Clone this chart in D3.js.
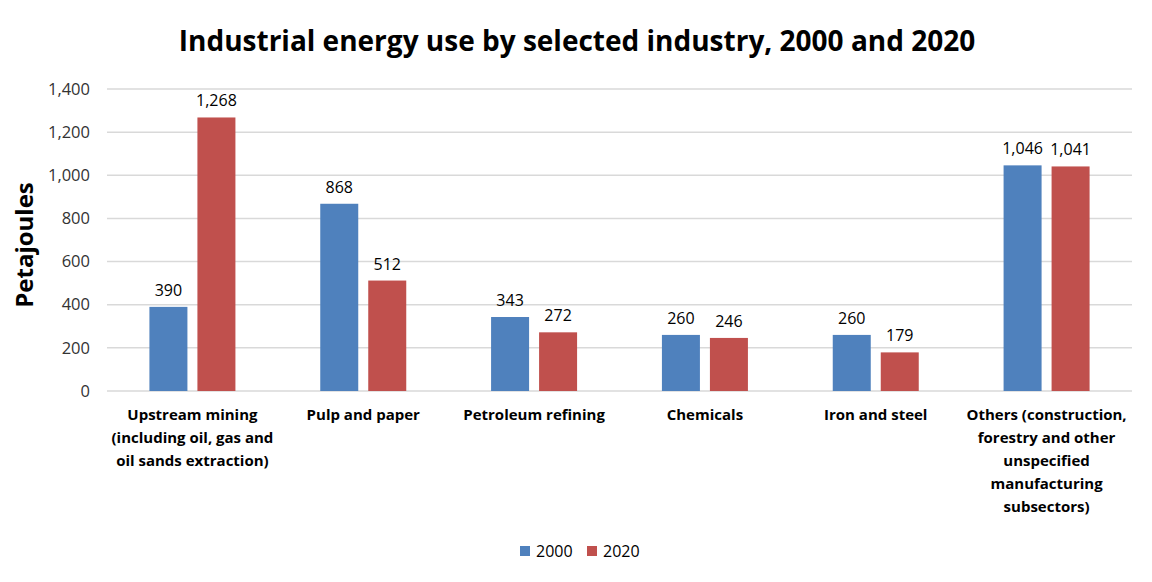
<!DOCTYPE html>
<html lang="en">
<head>
    <meta charset="UTF-8">
    <title>Industrial energy use</title>
    <script src="https://d3js.org/d3.v7.min.js"></script>
    <style>
        body { margin: 0; background: #fff; }
        svg { display: block; font-family: "Open Sans", "Noto Sans", sans-serif; }
        .grid line { stroke: #d9d9d9; stroke-width: 1.5px; }
        .tick-label { font-size: 16.5px; fill: #333; }
        .cat-label { font-size: 15px; font-weight: bold; fill: #000; }
        .value { font-size: 16px; fill: #000; }
    </style>
</head>
<body>
    <svg width="1152" height="582"></svg>
    <script>
        // data
        const categories = [
            ["Upstream mining", "(including oil, gas and", "oil sands extraction)"],
            ["Pulp and paper"],
            ["Petroleum refining"],
            ["Chemicals"],
            ["Iron and steel"],
            ["Others (construction,", "forestry and other", "unspecified", "manufacturing", "subsectors)"]
        ];
        const seriesNames = ["2000", "2020"];
        const values2000 = [390, 868, 343, 260, 260, 1046];
        const values2020 = [1268, 512, 272, 246, 179, 1041];
        const yTicks = [0, 200, 400, 600, 800, 1000, 1200, 1400];
        const colors = ["#4f81bd", "#c0504d"];

        const svg = d3.select("svg");
        const plotLeft = 107, plotRight = 1132, plotTop = 89, plotBottom = 391;

        const x = d3.scaleBand()
            .domain(d3.range(categories.length))
            .range([plotLeft, plotRight]);
        const y = d3.scaleLinear().domain([0, 1400]).range([plotBottom, plotTop]);

        const barW = 38, gap = 10;
        const offsets = [-(gap / 2 + barW), gap / 2];

        // title
        svg.append("text")
            .attr("x", 577).attr("y", 51)
            .attr("text-anchor", "middle")
            .style("font-size", "28px").style("font-weight", "bold")
            .text("Industrial energy use by selected industry, 2000 and 2020");

        // gridlines
        svg.append("g").attr("class", "grid")
            .selectAll("line").data(yTicks).enter().append("line")
            .attr("x1", plotLeft).attr("x2", plotRight)
            .attr("y1", d => y(d)).attr("y2", d => y(d));

        // y axis tick labels
        svg.append("g").selectAll("text").data(yTicks).enter().append("text")
            .attr("class", "tick-label")
            .attr("x", 90).attr("y", d => y(d)).attr("dy", "0.35em")
            .attr("text-anchor", "end")
            .text(d => d3.format(",")(d));

        // y axis title
        svg.append("text")
            .attr("transform", "translate(33,245) rotate(-90)")
            .attr("text-anchor", "middle")
            .style("font-size", "24px").style("font-weight", "bold")
            .text("Petajoules");

        // bars
        const series = [values2000, values2020];
        series.forEach((vals, s) => {
            const g = svg.append("g");
            g.selectAll("rect").data(vals).enter().append("rect")
                .attr("x", (d, i) => x(i) + x.bandwidth() / 2 + offsets[s])
                .attr("y", d => y(d))
                .attr("width", barW)
                .attr("height", d => y(0) - y(d))
                .attr("fill", colors[s]);
            g.selectAll("text").data(vals).enter().append("text")
                .attr("class", "value")
                .attr("x", (d, i) => x(i) + x.bandwidth() / 2 + offsets[s] + barW / 2)
                .attr("y", d => y(d) - 11)
                .attr("text-anchor", "middle")
                .text(d => d3.format(",")(d));
        });

        // category labels
        const cat = svg.append("g").selectAll("text").data(categories).enter().append("text")
            .attr("class", "cat-label")
            .attr("text-anchor", "middle")
            .attr("x", (d, i) => x(i) + x.bandwidth() / 2)
            .attr("y", 420);
        cat.selectAll("tspan").data(d => d).enter().append("tspan")
            .attr("x", function () { return d3.select(this.parentNode).attr("x"); })
            .attr("dy", (d, i) => i === 0 ? 0 : 23)
            .text(d => d);

        // legend
        const legend = svg.append("g");
        const legendX = [520, 587];
        seriesNames.forEach((name, i) => {
            legend.append("rect")
                .attr("x", legendX[i]).attr("y", 546)
                .attr("width", 10).attr("height", 10)
                .attr("fill", colors[i]);
            legend.append("text")
                .attr("x", legendX[i] + 16).attr("y", 551).attr("dy", "0.35em")
                .style("font-size", "16px").style("fill", "#000")
                .text(name);
        });
    </script>
</body>
</html>
